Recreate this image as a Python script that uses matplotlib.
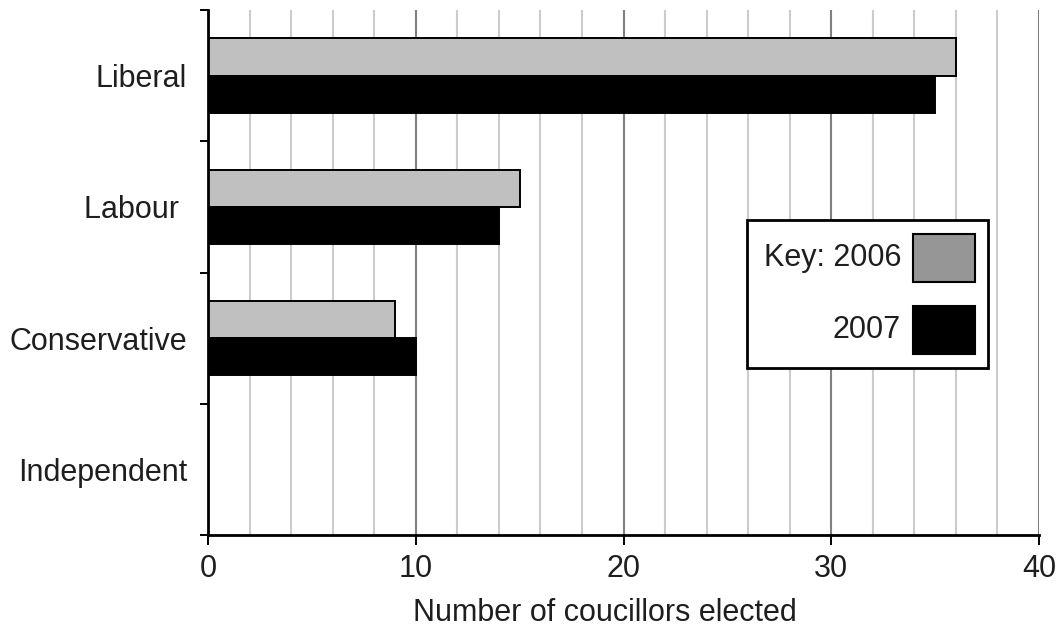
import matplotlib
matplotlib.use("Agg")
import matplotlib.pyplot as plt
from matplotlib.patches import Rectangle
import numpy as np

# data
parties = ["Liberal", "Labour ", "Conservative", "Independent"]
seats_2006 = [36, 15, 9, 0]
seats_2007 = [35, 14, 10, 0]
years = ["Key: 2006", "2007"]

plt.rcParams['font.family'] = ['Liberation Sans', 'DejaVu Sans']
txt = '#1e1e1e'

fig = plt.figure(figsize=(10.61, 6.27), dpi=100)
ax = fig.add_axes([208/1061, 1 - 535/627, 831/1061, 525/627])

# top category at the top
ypos = np.arange(len(parties))[::-1]
h = 0.283
ax.barh(ypos + h/2, seats_2006, height=h, color='#c0c0c0', edgecolor='black', linewidth=1.4, zorder=3)
ax.barh(ypos - h/2, seats_2007, height=h, color='black', edgecolor='black', linewidth=1.4, zorder=3)

ax.set_xlim(0, 40)
ax.set_ylim(-0.5, len(parties) - 0.5)

# grid: light every 2, darker every 10
ax.set_xticks(np.arange(0, 41, 10))
ax.set_xticks(np.arange(0, 41, 2), minor=True)
ax.grid(axis='x', which='minor', color='#cccccc', linewidth=1.5, zorder=0)
ax.grid(axis='x', which='major', color='#808080', linewidth=1.5, zorder=1)
ax.tick_params(axis='x', which='minor', length=0)
ax.tick_params(axis='x', which='major', length=7, width=1.4, direction='out',
               labelsize=22, labelcolor=txt, pad=7)

# category boundaries as ticks, names on minor ticks
ax.set_yticks(np.arange(-0.5, len(parties), 1.0))
ax.set_yticklabels([])
ax.set_yticks(ypos, minor=True)
ax.set_yticklabels(parties, minor=True)
ax.tick_params(axis='y', which='major', length=6, width=1.4, direction='out')
ax.tick_params(axis='y', which='minor', length=0, labelsize=22, labelcolor=txt, pad=15)

for s in ['top', 'right']:
    ax.spines[s].set_visible(False)
for s in ['left', 'bottom']:
    ax.spines[s].set_linewidth(2)
    ax.spines[s].set_zorder(5)

ax.set_xlabel("Number of coucillors elected", fontsize=22, color=txt)
ax.xaxis.set_label_coords((605 - 208) / 831, -0.12)

# key box, drawn by hand so the text sits left of the swatch
box = Rectangle((0.6486, 0.318), 0.29, 0.282, transform=ax.transAxes,
                facecolor='white', edgecolor='black', linewidth=2, zorder=6)
ax.add_patch(box)
sw_colors = ['#969696', 'black']
sw_y = [0.482, 0.345]
for lab, c, y in zip(years, sw_colors, sw_y):
    ax.add_patch(Rectangle((0.848, y), 0.0746, 0.0914, transform=ax.transAxes,
                           facecolor=c, edgecolor='black', linewidth=1.5, zorder=7))
    ax.text(0.834, y + 0.0457, lab, transform=ax.transAxes, ha='right', va='center',
            fontsize=22, color=txt, zorder=8)

fig.savefig("out.png", dpi=100, facecolor='white')
